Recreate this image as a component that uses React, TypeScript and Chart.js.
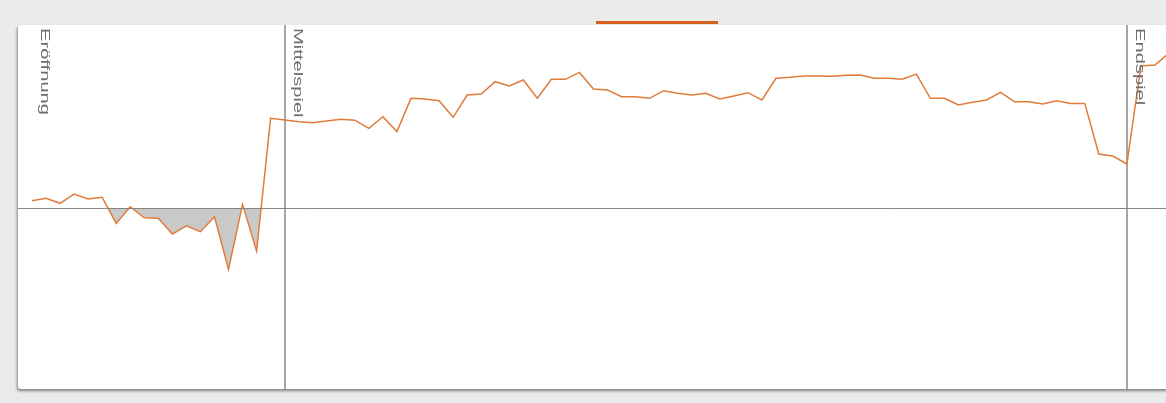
import React, { useEffect, useRef } from 'react';
import { Chart, registerables } from 'chart.js';

Chart.register(...registerables);

// engine evaluation per ply (pawns, positive = white better)
const evaluation = [
  0.4, 0.54, 0.26, 0.77, 0.5, 0.59, -0.85, 0.07, -0.54, -0.57,
  -1.44, -0.98, -1.31, -0.48, -3.39, 0.2, -2.38, 4.96, 4.86, 4.77,
  4.71, 4.81, 4.9, 4.85, 4.4, 5.04, 4.22, 6.06, 6.02, 5.93,
  5.01, 6.24, 6.3, 6.98, 6.74, 7.07, 6.06, 7.11, 7.11, 7.49,
  6.57, 6.52, 6.15, 6.15, 6.06, 6.48, 6.34, 6.24, 6.34, 6.02,
  6.19, 6.37, 5.97, 7.17, 7.22, 7.29, 7.29, 7.28, 7.33, 7.35,
  7.17, 7.17, 7.11, 7.4, 6.06, 6.06, 5.69, 5.84, 5.97, 6.39,
  5.87, 5.87, 5.75, 5.93, 5.78, 5.78, 2.98, 2.87, 2.43, 7.85,
  7.9, 8.56,
];

const plies = evaluation.map((_, i) => String(i + 1));

const phaseNames = ['Eröffnung', 'Mittelspiel', 'Endspiel'];
const phaseStartIndex = [0, 18, 78];

const yMin = -10;
const yMax = 10;

const phasePlugin = {
  id: 'phases',
  beforeDatasetsDraw(chart: any) {
    const { ctx, scales, height } = chart;
    const x = scales.x;
    ctx.save();
    ctx.strokeStyle = '#a6a6a6';
    ctx.lineWidth = 2;
    phaseStartIndex.forEach((idx) => {
      if (idx === 0) return;
      const px = Math.round(x.getPixelForValue(idx));
      ctx.beginPath();
      ctx.moveTo(px, 0);
      ctx.lineTo(px, height);
      ctx.stroke();
    });
    ctx.restore();
  },
  afterDatasetsDraw(chart: any) {
    const { ctx, scales, width } = chart;
    const x = scales.x;
    const y = scales.y;
    ctx.save();
    const y0 = Math.round(y.getPixelForValue(0)) + 0.5;
    ctx.strokeStyle = '#858585';
    ctx.lineWidth = 1;
    ctx.beginPath();
    ctx.moveTo(0, y0);
    ctx.lineTo(width, y0);
    ctx.stroke();

    ctx.fillStyle = '#6e6e6e';
    ctx.font = '13px "Liberation Sans", Arial, sans-serif';
    ctx.textBaseline = 'alphabetic';
    ctx.textAlign = 'left';
    phaseNames.forEach((name, i) => {
      const px = Math.round(x.getPixelForValue(phaseStartIndex[i])) + 9;
      ctx.save();
      ctx.translate(px, 3);
      ctx.rotate(Math.PI / 2);
      ctx.scale(1.55, 1);
      ctx.fillText(name, 0, 0);
      ctx.restore();
    });
    ctx.restore();
  },
};

export default function App() {
  const canvasRef = useRef<HTMLCanvasElement | null>(null);

  useEffect(() => {
    if (!canvasRef.current) return;
    const chart = new Chart(canvasRef.current, {
      type: 'line',
      data: {
        labels: plies,
        datasets: [
          {
            data: evaluation,
            borderColor: '#e07b39',
            borderWidth: 1.5,
            pointRadius: 0,
            tension: 0,
            fill: { target: 'origin', above: 'rgba(0,0,0,0)', below: '#c9c9c9' },
          },
        ],
      },
      options: {
        animation: false,
        responsive: true,
        maintainAspectRatio: false,
        layout: { padding: { left: 14, right: 15, top: 2, bottom: 0 } },
        plugins: { legend: { display: false }, tooltip: { enabled: false } },
        scales: {
          x: { display: false },
          y: { display: false, min: yMin, max: yMax },
        },
      },
      plugins: [phasePlugin],
    });
    return () => chart.destroy();
  }, []);

  return (
    <div style={{ position: 'fixed', inset: 0, background: '#ebebeb', overflow: 'hidden' }}>
      <div
        style={{
          position: 'absolute',
          left: 596,
          top: 21,
          width: 122,
          height: 3,
          background: '#d4611c',
        }}
      />
      <div
        style={{
          position: 'absolute',
          left: 18,
          top: 25,
          width: 1166,
          height: 364,
          background: '#ffffff',
          borderRadius: 3,
          boxShadow: '-1px 2px 3px rgba(0,0,0,0.45)',
        }}
      >
        <canvas ref={canvasRef} />
      </div>
    </div>
  );
}
